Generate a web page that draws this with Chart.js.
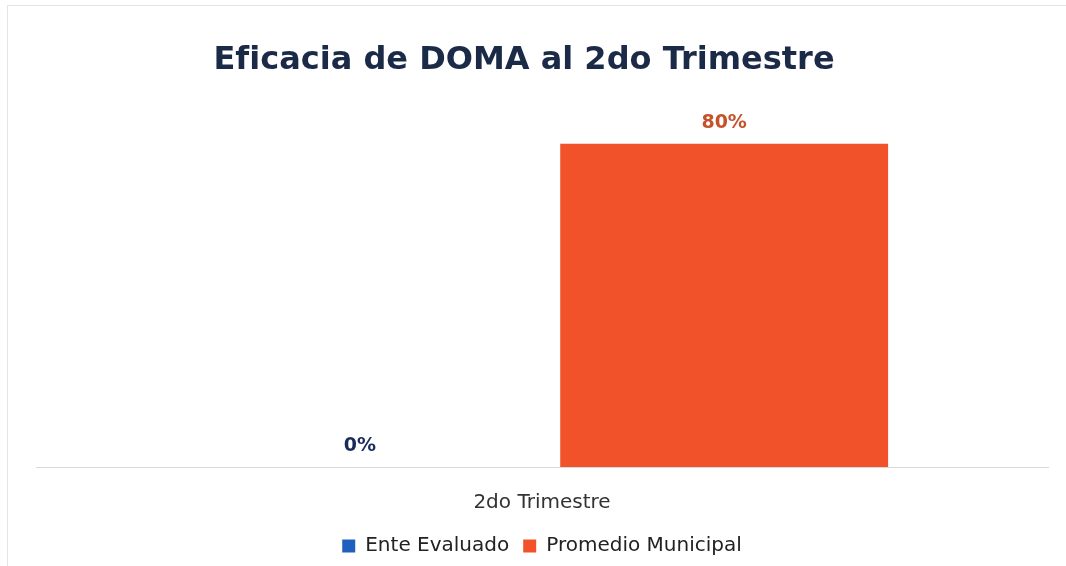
<!DOCTYPE html>
<html lang="es">
<head>
<meta charset="utf-8">
<title>Eficacia de DOMA al 2do Trimestre</title>
<script src="https://cdn.jsdelivr.net/npm/chart.js@4.4.1/dist/chart.umd.min.js"></script>
<style>
    html, body { margin: 0; padding: 0; background: #ffffff; }
    #wrap { position: relative; width: 1066px; height: 566px; overflow: hidden; }
    #frame { position: absolute; left: 7px; top: 5px; right: -5px; bottom: -5px; border: 1px solid #e4e4e4; }
    #chart { position: absolute; left: 0; top: 0; }
</style>
</head>
<body>
<div id="wrap">
    <div id="frame"></div>
    <canvas id="chart" width="1066" height="566"></canvas>
</div>
<script>
// datos
const categorias = ['2do Trimestre'];
const series = ['Ente Evaluado', 'Promedio Municipal'];
const enteEvaluado = [0];
const promedioMunicipal = [80];

const coloresBarra = ['#1F5FBF', '#F2522A'];
const coloresEtiqueta = ['#1B2A5C', '#C4532C'];
const fuente = '"DejaVu Sans", "Noto Sans", sans-serif';

// etiquetas de valor encima de cada barra
const etiquetasValor = {
    id: 'etiquetasValor',
    afterDatasetsDraw(chart) {
        const ctx = chart.ctx;
        ctx.save();
        ctx.font = 'bold 19px ' + fuente;
        ctx.textAlign = 'center';
        ctx.textBaseline = 'middle';
        chart.data.datasets.forEach((ds, i) => {
            const meta = chart.getDatasetMeta(i);
            meta.data.forEach((bar, j) => {
                ctx.fillStyle = coloresEtiqueta[i];
                ctx.fillText(ds.data[j] + '%', bar.x, bar.y - 21);
            });
        });
        ctx.restore();
    }
};

new Chart(document.getElementById('chart'), {
    type: 'bar',
    data: {
        labels: categorias,
        datasets: [
            { label: series[0], data: enteEvaluado, backgroundColor: coloresBarra[0] },
            { label: series[1], data: promedioMunicipal, backgroundColor: coloresBarra[1] }
        ]
    },
    options: {
        responsive: false,
        animation: false,
        layout: { padding: { left: 0, right: 18, top: 0, bottom: 0 } },
        datasets: { bar: { categoryPercentage: 0.72, barPercentage: 0.9 } },
        scales: {
            x: {
                grid: { display: false },
                border: { display: true, color: '#d9d9d9', width: 1 },
                ticks: { color: '#333333', font: { family: fuente, size: 20 }, padding: 16 },
                afterFit: scale => { scale.height = 55; }
            },
            y: {
                min: 0,
                max: 90,
                grid: { display: false },
                border: { display: false },
                ticks: { display: false },
                afterFit: scale => { scale.width = 36; }
            }
        },
        plugins: {
            title: {
                display: true,
                text: 'Eficacia de DOMA al 2do Trimestre',
                color: '#1B2A47',
                font: { family: fuente, size: 32, weight: 'bold', lineHeight: 1.2 },
                padding: { top: 41, bottom: 24 }
            },
            legend: {
                position: 'bottom',
                fullSize: false,
                labels: {
                    boxWidth: 13,
                    boxHeight: 13,
                    padding: 14,
                    color: '#222222',
                    font: { family: fuente, size: 20 }
                }
            },
            tooltip: { enabled: false }
        }
    },
    plugins: [etiquetasValor]
});
</script>
</body>
</html>
